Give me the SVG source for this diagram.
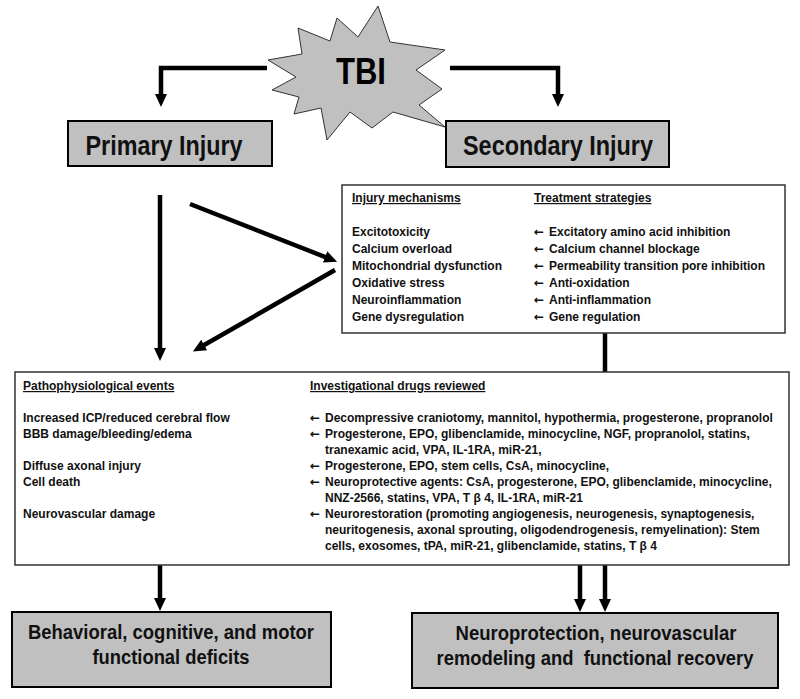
<svg xmlns="http://www.w3.org/2000/svg" width="800" height="699" viewBox="0 0 800 699">
<style>
.gbox{fill:#c0c0c0;stroke:#000;stroke-width:2}
.wbox{fill:#fff;stroke:#333;stroke-width:1.5}
.big{font-family:"Liberation Sans",Arial,sans-serif;font-size:28px;font-weight:bold;fill:#111}
.bot{font-family:"Liberation Sans",Arial,sans-serif;font-size:20px;font-weight:bold;fill:#111}
.s{font-family:"Liberation Sans",Arial,sans-serif;font-size:12px;font-weight:bold;fill:#111}
.a{font-family:"DejaVu Sans",sans-serif;font-size:12px;font-weight:bold;fill:#111}
.u{text-decoration:underline}
.c{fill:none;stroke:#000;stroke-width:4.5;stroke-linejoin:miter}
</style>
<defs>
<marker id="ah" markerUnits="userSpaceOnUse" markerWidth="13" markerHeight="12" viewBox="0 0 13 12" refX="1" refY="6" orient="auto">
<path d="M0,0 L13,6 L0,12 z" fill="#000"/>
</marker>
</defs>

<g id="connectors">
<path class="c" d="M267,68 H161 V95" marker-end="url(#ah)"/>
<path class="c" d="M450,68 H558 V95" marker-end="url(#ah)"/>
<path class="c" d="M160,195 V349" marker-end="url(#ah)"/>
<path class="c" d="M190,204 L326,257.3" marker-end="url(#ah)"/>
<path class="c" d="M335,270 L203.3,345.5" marker-end="url(#ah)"/>
<path class="c" d="M605,333 V372"/>
<path class="c" d="M160,565 V599" marker-end="url(#ah)"/>
<path class="c" d="M580,565 V600" marker-end="url(#ah)"/>
<path class="c" d="M605,565 V600" marker-end="url(#ah)"/>
</g>

<g id="tbi">
<polygon points="378,6 390,42 445,50 416,70 442,89 419,105 445,127 393,112 372,128 350,112 327,140 321,108 294,114 299,97 272,90 296,77 268,60 302,54 298,28 330,41 337,18 358,37" fill="#c0c0c0" stroke="#333" stroke-width="1"/>
<text x="361" y="84" text-anchor="middle" font-family="Liberation Sans,Arial,sans-serif" font-size="36" font-weight="bold" fill="#000" textLength="50" lengthAdjust="spacingAndGlyphs">TBI</text>
</g>

<g id="primary">
<rect class="gbox" x="68" y="121" width="204" height="45"/>
<text class="big" x="164" y="155" text-anchor="middle" textLength="157" lengthAdjust="spacingAndGlyphs">Primary Injury</text>
</g>

<g id="secondary">
<rect class="gbox" x="446" y="121" width="223" height="46"/>
<text class="big" x="558" y="155" text-anchor="middle" textLength="190" lengthAdjust="spacingAndGlyphs">Secondary Injury</text>
</g>

<g id="mechanisms">
<rect class="wbox" x="342" y="185" width="443" height="148"/>
<text class="s u" x="352" y="202">Injury mechanisms</text>
<text class="s u" x="534" y="202">Treatment strategies</text>
<text class="s" x="352" y="236">Excitotoxicity</text>
<text class="s" x="352" y="253">Calcium overload</text>
<text class="s" x="352" y="270">Mitochondrial dysfunction</text>
<text class="s" x="352" y="287">Oxidative stress</text>
<text class="s" x="352" y="304">Neuroinflammation</text>
<text class="s" x="352" y="321">Gene dysregulation</text>
<text class="a" x="534" y="236">←</text><text class="s" x="549" y="236">Excitatory amino acid inhibition</text>
<text class="a" x="534" y="253">←</text><text class="s" x="549" y="253">Calcium channel blockage</text>
<text class="a" x="534" y="270">←</text><text class="s" x="549" y="270">Permeability transition pore inhibition</text>
<text class="a" x="534" y="287">←</text><text class="s" x="549" y="287">Anti-oxidation</text>
<text class="a" x="534" y="304">←</text><text class="s" x="549" y="304">Anti-inflammation</text>
<text class="a" x="534" y="321">←</text><text class="s" x="549" y="321">Gene regulation</text>
</g>

<g id="events">
<rect class="wbox" x="15" y="372" width="774" height="193"/>
<text class="s u" x="23" y="390">Pathophysiological events</text>
<text class="s u" x="310" y="390">Investigational drugs reviewed</text>
<text class="s" x="23" y="422">Increased ICP/reduced cerebral flow</text>
<text class="s" x="23" y="438">BBB damage/bleeding/edema</text>
<text class="s" x="23" y="470">Diffuse axonal injury</text>
<text class="s" x="23" y="486">Cell death</text>
<text class="s" x="23" y="518">Neurovascular damage</text>
<text class="a" x="310" y="422">←</text><text class="s" x="325" y="422">Decompressive craniotomy, mannitol, hypothermia, progesterone, propranolol</text>
<text class="a" x="310" y="438">←</text><text class="s" x="325" y="438">Progesterone, EPO, glibenclamide, minocycline, NGF, propranolol, statins,</text>
<text class="s" x="325" y="454">tranexamic acid, VPA, IL-1RA, miR-21,</text>
<text class="a" x="310" y="470">←</text><text class="s" x="325" y="470">Progesterone, EPO, stem cells, CsA, minocycline,</text>
<text class="a" x="310" y="486">←</text><text class="s" x="325" y="486">Neuroprotective agents: CsA, progesterone, EPO, glibenclamide, minocycline,</text>
<text class="s" x="325" y="502">NNZ-2566, statins, VPA, T β 4, IL-1RA, miR-21</text>
<text class="a" x="310" y="518">←</text><text class="s" x="325" y="518">Neurorestoration (promoting angiogenesis, neurogenesis, synaptogenesis,</text>
<text class="s" x="325" y="534">neuritogenesis, axonal sprouting, oligodendrogenesis, remyelination): Stem</text>
<text class="s" x="325" y="550">cells, exosomes, tPA, miR-21, glibenclamide, statins, T β 4</text>
</g>

<g id="deficits">
<rect class="gbox" x="12" y="612" width="319" height="75"/>
<text class="bot" x="171" y="639" text-anchor="middle" textLength="286" lengthAdjust="spacingAndGlyphs">Behavioral, cognitive, and motor</text>
<text class="bot" x="171" y="664" text-anchor="middle" textLength="157" lengthAdjust="spacingAndGlyphs">functional deficits</text>
</g>

<g id="recovery">
<rect class="gbox" x="412" y="613" width="366" height="75"/>
<text class="bot" x="596" y="640" text-anchor="middle" textLength="281" lengthAdjust="spacingAndGlyphs">Neuroprotection, neurovascular</text>
<text class="bot" x="595" y="665" text-anchor="middle" textLength="317" lengthAdjust="spacingAndGlyphs" xml:space="preserve">remodeling and  functional recovery</text>
</g>
</svg>
